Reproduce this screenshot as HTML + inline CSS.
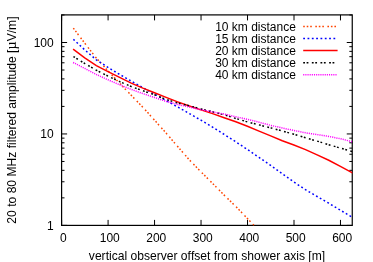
<!DOCTYPE html>
<html><head><meta charset="utf-8"><title>plot</title>
<style>html,body{margin:0;padding:0;background:#fff}</style></head>
<body>
<svg width="373" height="262" viewBox="0 0 373 262" style="display:block;will-change:transform;font-family:'Liberation Sans',sans-serif;font-size:12px;font-kerning:none">
<rect width="373" height="262" fill="#fff"/>
<path d="M61.60,225.4 v-5.5 M61.60,14.9 v5.5 M108.08,225.4 v-5.5 M108.08,14.9 v5.5 M154.56,225.4 v-5.5 M154.56,14.9 v5.5 M201.04,225.4 v-5.5 M201.04,14.9 v5.5 M247.52,225.4 v-5.5 M247.52,14.9 v5.5 M294.00,225.4 v-5.5 M294.00,14.9 v5.5 M340.48,225.4 v-5.5 M340.48,14.9 v5.5 M61.6,225.40 h5.5 M352.25,225.40 h-5.5 M61.6,197.87 h2.9 M352.25,197.87 h-2.9 M61.6,181.77 h2.9 M352.25,181.77 h-2.9 M61.6,170.34 h2.9 M352.25,170.34 h-2.9 M61.6,161.48 h2.9 M352.25,161.48 h-2.9 M61.6,154.24 h2.9 M352.25,154.24 h-2.9 M61.6,148.12 h2.9 M352.25,148.12 h-2.9 M61.6,142.81 h2.9 M352.25,142.81 h-2.9 M61.6,138.13 h2.9 M352.25,138.13 h-2.9 M61.6,133.95 h5.5 M352.25,133.95 h-5.5 M61.6,106.42 h2.9 M352.25,106.42 h-2.9 M61.6,90.32 h2.9 M352.25,90.32 h-2.9 M61.6,78.89 h2.9 M352.25,78.89 h-2.9 M61.6,70.03 h2.9 M352.25,70.03 h-2.9 M61.6,62.79 h2.9 M352.25,62.79 h-2.9 M61.6,56.67 h2.9 M352.25,56.67 h-2.9 M61.6,51.36 h2.9 M352.25,51.36 h-2.9 M61.6,46.68 h2.9 M352.25,46.68 h-2.9 M61.6,42.50 h5.5 M352.25,42.50 h-5.5 M61.6,14.97 h2.9 M352.25,14.97 h-2.9" stroke="#000" stroke-width="1" fill="none"/>
<rect x="61.6" y="14.9" width="290.65" height="210.5" fill="none" stroke="#000" stroke-width="1.2"/>
<text x="63.30" y="242.1" text-anchor="middle">0</text>
<text x="109.78" y="242.1" text-anchor="middle">100</text>
<text x="156.26" y="242.1" text-anchor="middle">200</text>
<text x="202.74" y="242.1" text-anchor="middle">300</text>
<text x="249.22" y="242.1" text-anchor="middle">400</text>
<text x="295.70" y="242.1" text-anchor="middle">500</text>
<text x="342.18" y="242.1" text-anchor="middle">600</text>
<text x="53.7" y="229.50" text-anchor="end">1</text>
<text x="53.7" y="138.05" text-anchor="end">10</text>
<text x="53.7" y="46.60" text-anchor="end">100</text>
<text x="207" y="259.7" text-anchor="middle" font-size="12.08">vertical observer offset from shower axis [m]</text>
<text transform="translate(16.2,120.05) rotate(-90)" text-anchor="middle" font-size="12.1">20 to 80 MHz filtered amplitude [<tspan font-family="'Liberation Serif',serif" font-size="14.2">µ</tspan>V/m]</text>
<clipPath id="c"><rect x="61.6" y="14.9" width="290.65" height="210.5"/></clipPath>
<g clip-path="url(#c)" fill="none" stroke-width="1.5">
<path d="M73.12,27.80 L84.74,43.22 L96.36,58.10 L107.98,70.85 L119.60,83.27 L131.22,95.29 L142.84,107.24 L154.46,120.06 L166.08,133.10 L177.70,146.56 L189.32,159.87 L200.94,171.77 L212.56,183.39 L224.18,195.12 L235.80,206.46 L247.42,218.50 L259.04,230.75 L270.66,243.00 L282.28,255.25 L293.90,267.50 L305.52,279.75 L317.14,292.00 L328.76,304.25 L340.38,316.50 L352.00,328.76 L363.62,341.01" stroke="#ff4500" stroke-dasharray="1.6 1.9 1.6 1.9 1.6 3.5" stroke-dashoffset="-0.35"/>
<path d="M73.12,39.09 L84.74,49.86 L96.36,59.90 L107.98,67.38 L119.60,74.39 L131.22,81.10 L142.84,87.66 L154.46,93.98 L166.08,100.58 L177.70,106.99 L189.32,113.52 L200.94,120.21 L212.56,127.10 L224.18,134.42 L235.80,141.77 L247.42,149.50 L259.04,157.47 L270.66,165.41 L282.28,173.83 L293.90,182.02 L305.52,189.71 L317.14,196.52 L328.76,203.22 L340.38,210.20 L352.00,217.13 L363.62,224.06" stroke="#0000ff" stroke-dasharray="1.8 2.52" stroke-dashoffset="-0.35"/>
<path d="M73.12,49.20 L84.74,57.77 L96.36,65.56 L107.98,71.56 L119.60,77.35 L131.22,83.13 L142.84,88.13 L154.46,92.82 L166.08,97.41 L177.70,101.84 L189.32,105.98 L200.94,109.91 L212.56,113.59 L224.18,117.68 L235.80,121.82 L247.42,126.32 L259.04,131.08 L270.66,135.84 L282.28,140.75 L293.90,145.06 L305.52,149.58 L317.14,154.87 L328.76,160.22 L340.38,166.42 L352.00,172.59 L363.62,178.75" stroke="#ff0000"/>
<path d="M73.12,56.35 L84.74,63.47 L96.36,70.24 L107.98,76.09 L119.60,81.60 L131.22,86.53 L142.84,90.77 L154.46,94.74 L166.08,99.45 L177.70,103.05 L189.32,105.81 L200.94,108.92 L212.56,111.78 L224.18,114.86 L235.80,118.45 L247.42,121.91 L259.04,124.89 L270.66,127.87 L282.28,130.95 L293.90,134.30 L305.52,137.79 L317.14,141.09 L328.76,144.69 L340.38,148.10 L352.00,151.44 L363.62,154.79" stroke="#000000" stroke-dasharray="1.8 1.6 1.8 3.44" stroke-dashoffset="-0.35"/>
<path d="M73.12,62.47 L84.74,68.45 L96.36,74.46 L107.98,79.81 L119.60,84.76 L131.22,89.40 L142.84,93.56 L154.46,97.48 L166.08,101.35 L177.70,104.46 L189.32,107.13 L200.94,109.68 L212.56,111.87 L224.18,114.10 L235.80,116.72 L247.42,119.43 L259.04,122.23 L270.66,125.34 L282.28,128.01 L293.90,130.46 L305.52,132.80 L317.14,134.59 L328.76,136.39 L340.38,138.75 L352.00,141.67 L363.62,144.59" stroke="#ff00ff" stroke-dasharray="1.1 1.05" stroke-dashoffset="0"/>
</g>
<text x="295.9" y="30.60" text-anchor="end">10 km distance</text>
<path d="M303.2,26.40 H337.6" stroke="#ff4500" stroke-width="1.5" fill="none" stroke-dasharray="1.6 1.9 1.6 1.9 1.6 3.5"/>
<text x="295.9" y="42.72" text-anchor="end">15 km distance</text>
<path d="M303.2,38.50 H337.6" stroke="#0000ff" stroke-width="1.5" fill="none" stroke-dasharray="1.8 2.52"/>
<text x="295.9" y="54.84" text-anchor="end">20 km distance</text>
<path d="M303.2,50.60 H337.6" stroke="#ff0000" stroke-width="1.5" fill="none"/>
<text x="295.9" y="66.96" text-anchor="end">30 km distance</text>
<path d="M303.2,62.70 H337.6" stroke="#000000" stroke-width="1.5" fill="none" stroke-dasharray="1.8 1.6 1.8 3.44"/>
<text x="295.9" y="79.08" text-anchor="end">40 km distance</text>
<path d="M303.2,74.80 H337.6" stroke="#ff00ff" stroke-width="1.5" fill="none" stroke-dasharray="1.1 1.05"/>
</svg>
</body></html>
